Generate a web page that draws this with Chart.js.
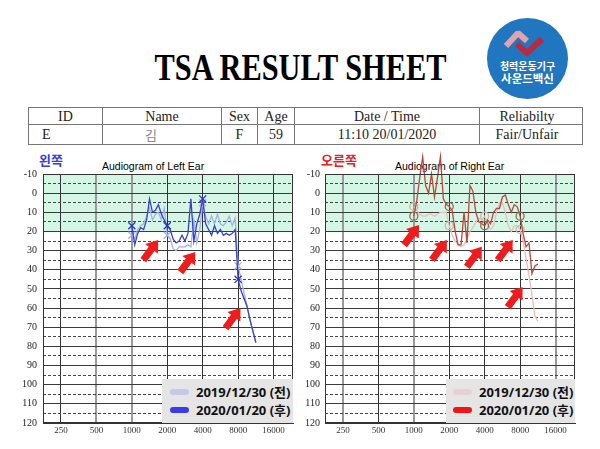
<!DOCTYPE html>
<html>
<head>
<meta charset="utf-8">
<script src="https://cdn.jsdelivr.net/npm/chart.js@4.4.1/dist/chart.umd.min.js"></script>
<style>
  body { margin: 0; width: 600px; height: 449px; position: relative; background: #fff; overflow: hidden; }
  .abs { position: absolute; }
  #head { left: 0; width: 601px; top: 49px; text-align: center; font: bold 37px/37px "Liberation Serif", serif; color: #000; transform: scaleX(0.82); }
  #logo { left: 487px; top: 18px; width: 81px; height: 81px; border-radius: 50%; background: #2176c0; color: #fff; text-align: center; font-family: "Noto Sans CJK KR", sans-serif; font-weight: bold; }
  #logo svg { position: absolute; left: 0; top: 0; }
  #logo span { position: absolute; left: 0; width: 81px; line-height: 12px; }
  #info { left: 28px; top: 107px; border-collapse: collapse; font: 14px "Liberation Serif", serif; color: #222; }
  #info td { border: 1px solid #777; padding: 0; text-align: center; }
  #info tr:first-child td { height: 16px; line-height: 15px; }
  #info tr:last-child td { height: 19px; line-height: 18px; }
  .ttl { font: 10.5px/12px "Liberation Sans", Arial, sans-serif; color: #000; top: 160px; white-space: nowrap; }
  .side { font: bold 13px/14px "Noto Sans CJK KR", sans-serif; top: 153px; }
  canvas { position: absolute; top: 150px; }
  .lg { background: #e5e5e5; top: 379px; height: 44px; font: bold 13px/17.5px "Noto Sans", "Noto Sans CJK KR", sans-serif; color: #111; padding-top: 5px; box-sizing: border-box; }
  .lg div { white-space: nowrap; }
  .lg i { display: inline-block; width: 19px; height: 6px; border-radius: 3px; margin-right: 7px; vertical-align: 2px; }
</style>
</head>
<body>
<div id="head" class="abs">TSA RESULT SHEET</div>
<div id="logo" class="abs">
  <svg width="81" height="81">
    <polyline points="19,28 31,15 40,23" fill="none" stroke="#e3a3ab" stroke-width="6" stroke-linejoin="bevel"/>
    <polyline points="30,26 40,35 55,21" fill="none" stroke="#b82a40" stroke-width="6" stroke-linejoin="miter"/>
  </svg>
  <span style="top:42px;font-size:10px">청력운동기구</span>
  <span style="top:54px;font-size:11.5px">사운드백신</span>
</div>
<table id="info" class="abs">
  <tr><td style="width:73px">ID</td><td style="width:118px">Name</td><td style="width:35px">Sex</td><td style="width:36px">Age</td><td style="width:184px">Date / Time</td><td style="width:94px;padding-right:8px">Reliabilty</td></tr>
  <tr><td style="text-align:left;padding-left:13px">E</td><td style="padding-right:22px;color:#888;font:13px 'Noto Sans CJK KR',sans-serif">김</td><td>F</td><td>59</td><td>11:10 20/01/2020</td><td style="padding-right:8px">Fair/Unfair</td></tr>
</table>

<div class="abs side" style="left:39px;color:#3b3be0">왼쪽</div>
<div class="abs side" style="left:321px;color:#e52222">오른쪽</div>
<div class="abs ttl" id="ttlL" style="left:102px">Audiogram of Left Ear</div>
<div class="abs ttl" id="ttlR" style="left:395px">Audiogram of Right Ear</div>

<canvas id="leftEar" width="300" height="299" style="left:0"></canvas>
<canvas id="rightEar" width="300" height="299" style="left:300px"></canvas>

<div class="abs lg" id="lgL" style="left:162px;width:131px;padding-left:8px"></div>
<div class="abs lg" id="lgR" style="left:446px;width:129px;padding-left:7px"></div>

<script>
// frequencies (Hz), 1/12 octave steps from 1000 to ~11.3k
const freqs = [1000, 1059, 1122, 1189, 1260, 1335, 1414, 1498, 1587, 1682, 1782, 1888,
  2000, 2119, 2245, 2378, 2520, 2670, 2828, 2997, 3175, 3364, 3564, 3775,
  4000, 4238, 4490, 4757, 5040, 5339, 5657, 5993, 6350, 6727, 7127, 7551,
  8000, 8476, 8980, 9514, 10079, 10679, 11314];
const xTicks = [250, 500, 1000, 2000, 4000, 8000, 16000];
const dashLevels = [-5, 5, 15, 25, 35, 45, 55, 65, 75, 85, 95, 105, 115];
const markFreqs = [1000, 2000, 4000, 8000];
const normalBand = [-10, 20];
const seriesLabels = ['2019/12/30 (전)', '2020/01/20 (후)'];

// hearing thresholds in dB
const leftBefore = [22, 24, 19, 17, 16, 12, 8, 14, 11, 10, 14, 8, 22, 24, 29, 30, 28, 28, 28, 27, 28, 14, 26, 19,
  5, 12, 16, 12, 16, 11, 16, 17, 15, 12, 17, 13, 38, 45, 52, 59, 66, 72, 78];
const leftAfter = [17, 27, 21, 18, 19, 14, 3, 10, 9, 6, 11, 14, 17, 19, 24, 26, 25, 22, 25, 21, 3, 25, 16, 11,
  3, 16, 19, 22, 17, 21, 19, 22, 21, 22, 21, 19, 45, 51, 55, 59, 66, 72, 78];
const rightBefore = [7, 9, 11, 12, 12, 11, 11, 12, 11, 10, 10, 10, 17, 22, 25, 27, 28, 27, 24, 20, 18, 15, 13, 14,
  12, 17, 19, 17, 10, 5, 5, 10, 17, 20, 17, 17, 19, 25, 34, 43, 53, 64, 67];
const rightAfter = [12, 4, -8, -19, -4, 0, -10, 2, -8, -19, 3, 6, 7, 9, 20, 27, 27, 10, 26, -4, -1, 10, 15, 16,
  17, 14, 16, 10, 8, 8, 2, 1, 6, 10, 6, 7, 12, 21, 28, 26, 42, 38, 37];

// red arrow tips [Hz, dB]
const leftArrows = [[1676, 24.5], [3460, 30.7], [8380, 60]];
const rightArrows = [[1107, 16.6], [1910, 24.4], [3780, 28], [6920, 24.5], [8400, 49]];

const decor = {
  id: 'decor',
  beforeDraw(chart, args, opts) {
    const {ctx, chartArea: a, scales: {y}} = chart;
    const t = y.getPixelForValue(opts.band[0]);
    const b = y.getPixelForValue(opts.band[1]);
    ctx.save();
    ctx.fillStyle = '#d4f6e4';
    ctx.fillRect(a.left, t, a.width, b - t);
    ctx.restore();
  },
  afterDatasetsDraw(chart, args, opts) {
    const {ctx, chartArea: a, scales: {x, y}} = chart;
    ctx.save();
    ctx.strokeStyle = '#333';
    ctx.lineWidth = 1;
    ctx.strokeRect(Math.round(a.left) + 0.5, Math.round(a.top) + 0.5, Math.round(a.width) - 1, Math.round(a.height) - 1);
    ctx.fillStyle = '#ee1c1c';
    opts.arrows.forEach(([f, db]) => {
      ctx.save();
      ctx.translate(x.getPixelForValue(f), y.getPixelForValue(db));
      ctx.rotate(-0.93);
      ctx.beginPath();
      ctx.moveTo(0, 0);
      ctx.lineTo(-11, -8);
      ctx.lineTo(-11, -3.6);
      ctx.lineTo(-25, -3.6);
      ctx.lineTo(-25, 3.6);
      ctx.lineTo(-11, 3.6);
      ctx.lineTo(-11, 8);
      ctx.closePath();
      ctx.fill();
      ctx.restore();
    });
    ctx.restore();
  }
};

function pts(vals) {
  return freqs.map((f, i) => ({x: f, y: vals[i]}));
}

function earChart(id, cfg) {
  const tickFont = {family: 'Liberation Serif', size: 10};
  const mk = c => markFreqs.includes(freqs[c.dataIndex]) ? cfg.markSize : 0;
  const ds = (label, vals, color, markColor, order) => ({
    label, data: pts(vals), borderColor: color, borderWidth: 1.3, tension: 0, clip: false, order,
    pointStyle: cfg.markStyle, pointRadius: mk, pointHoverRadius: mk,
    pointBorderColor: markColor, pointBackgroundColor: 'rgba(0,0,0,0)', pointBorderWidth: 1.3
  });
  return new Chart(document.getElementById(id), {
    type: 'line',
    data: {
      datasets: [
        ds(seriesLabels[0], cfg.before, cfg.colors[0], cfg.markColors[0], 2),
        ds(seriesLabels[1], cfg.after, cfg.colors[1], cfg.markColors[1], 1)
      ]
    },
    plugins: [decor],
    options: {
      responsive: false,
      animation: false,
      events: [],
      layout: {padding: {top: 24, right: cfg.padRight, bottom: 0, left: 0}, autoPadding: false},
      plugins: {
        legend: {display: false},
        tooltip: {enabled: false},
        decor: {band: normalBand, arrows: cfg.arrows}
      },
      scales: {
        x: {
          type: 'logarithmic', min: 176, max: 23400,
          afterBuildTicks: s => { s.ticks = xTicks.map(v => ({value: v})); },
          afterFit: s => { s.height = 26; },
          ticks: {callback: v => String(v), autoSkip: false, maxRotation: 0, padding: 2,
            font: {family: 'Liberation Serif', size: 9}, color: '#333'},
          grid: {drawTicks: false, color: c => cfg.vColors[c.index], lineWidth: c => cfg.vWidths[c.index]},
          border: {color: '#333'}
        },
        y: {
          type: 'linear', reverse: true, min: -10, max: 120,
          afterFit: s => { s.width = cfg.yWidth; },
          ticks: {stepSize: 10, padding: cfg.yPad, font: tickFont, color: '#222'},
          grid: {drawTicks: false, color: '#3a3a3a'},
          border: {color: '#333'}
        },
        y2: {
          type: 'linear', position: 'left', reverse: true, min: -10, max: 120,
          afterBuildTicks: s => { s.ticks = dashLevels.map(v => ({value: v})); },
          afterFit: s => { s.width = 0; },
          ticks: {display: false},
          grid: {drawTicks: false, color: '#444'},
          border: {display: false, dash: [3, 2]}
        }
      }
    }
  });
}

earChart('leftEar', {
  before: leftBefore, after: leftAfter,
  colors: ['#a7b0ea', '#3642c8'], markColors: ['#a7b0ea', '#2a36c0'],
  markStyle: 'crossRot', markSize: 5, arrows: leftArrows,
  yWidth: 43, yPad: 6, padRight: 7,
  vColors: ['#333', '#999', '#999', '#333', '#333', '#333', '#333'],
  vWidths: [1, 2, 2, 1, 1, 1, 1]
});
earChart('rightEar', {
  before: rightBefore, after: rightAfter,
  colors: ['#eebcbc', '#b8473c'], markColors: ['#c9b6a6', '#8a7050'],
  markStyle: 'circle', markSize: 4, arrows: rightArrows,
  yWidth: 25, yPad: 5, padRight: 25,
  vColors: ['#999', '#333', '#999', '#333', '#333', '#333', '#999'],
  vWidths: [2, 1, 2, 1, 1, 1, 2]
});

// legends built from the series labels
function legend(id, swatches) {
  const box = document.getElementById(id);
  seriesLabels.forEach((t, i) => {
    const row = document.createElement('div');
    row.innerHTML = '<i style="background:' + swatches[i] + '"></i>' + t;
    box.appendChild(row);
  });
}
legend('lgL', ['#c5c8e6', '#3a3aea']);
legend('lgR', ['#e6d0d3', '#f01414']);
</script>
</body>
</html>
